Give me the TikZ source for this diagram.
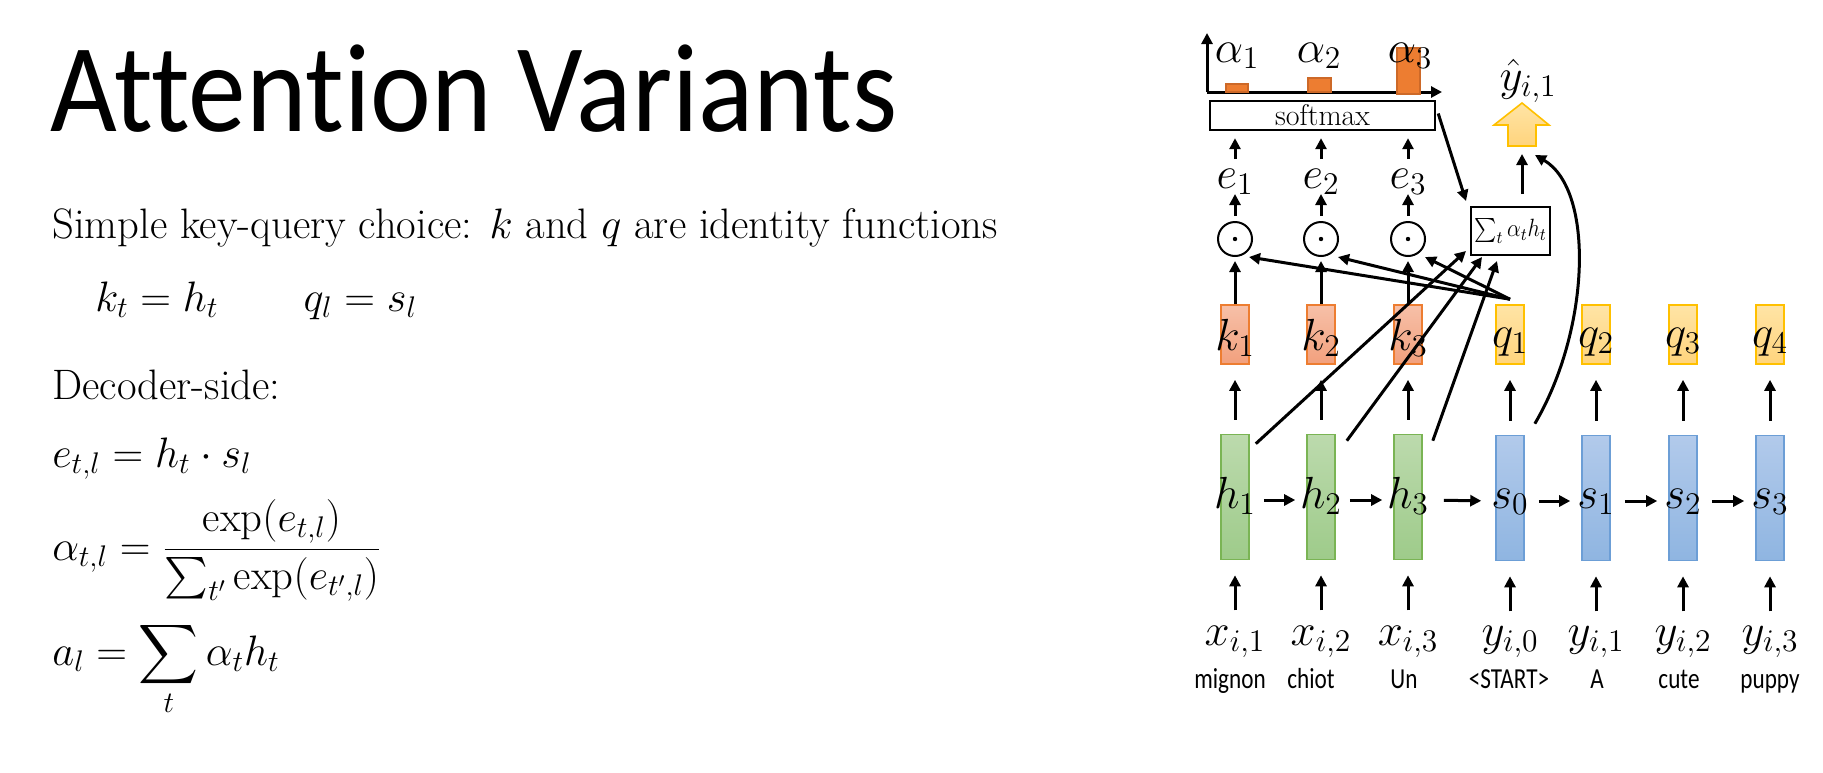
\RequirePackage{fix-cm}
\documentclass[tikz,border=0pt]{standalone}
\usepackage{amsmath}
\usepackage{exscale}
\usepackage{fontspec}
\usepackage{graphicx}
\usetikzlibrary{arrows.meta,calc}

\newfontfamily\titlefont[Ligatures=NoCommon,FakeStretch=0.915]{Carlito}
\newfontfamily\wordfont[FakeStretch=0.8]{Carlito}
\newcommand{\sq}[1]{\scalebox{0.88}[1]{#1}}

\definecolor{hgreenT}{RGB}{188,218,173}
\definecolor{hgreenB}{RGB}{158,203,138}
\definecolor{hgreenD}{RGB}{122,180,84}
\definecolor{sblueT}{RGB}{178,202,235}
\definecolor{sblueB}{RGB}{143,181,225}
\definecolor{sblueD}{RGB}{108,158,214}
\definecolor{korT}{RGB}{247,192,168}
\definecolor{korB}{RGB}{242,160,125}
\definecolor{korD}{RGB}{237,125,49}
\definecolor{qyT}{RGB}{255,228,165}
\definecolor{qyB}{RGB}{255,212,125}
\definecolor{qyD}{RGB}{255,192,0}
\definecolor{barfill}{RGB}{237,125,49}
\definecolor{bardraw}{RGB}{205,105,40}

\tikzset{
  arr/.style={line width=1.5pt,-{Triangle[length=5.5pt,width=5.5pt]}},
  vecbox/.style={draw, line width=0.8pt, minimum width=14pt, inner sep=0pt},
  hstate/.style={vecbox, minimum height=62.5pt, draw=hgreenD, top color=hgreenT, bottom color=hgreenB},
  sstate/.style={vecbox, minimum height=62.5pt, draw=sblueD, top color=sblueT, bottom color=sblueB},
  kvec/.style={vecbox, minimum height=29.5pt, draw=korD, top color=korT, bottom color=korB},
  qvec/.style={vecbox, minimum height=29.5pt, draw=qyD, top color=qyT, bottom color=qyB},
  dotop/.style={circle, draw, line width=1pt, minimum size=17pt, inner sep=0pt},
  lab/.style={inner sep=0pt, anchor=base, font=\fontsize{22.5}{26}\selectfont},
  word/.style={inner sep=0pt, anchor=base, font=\wordfont\fontsize{14.5}{17}\selectfont},
  body/.style={inner sep=0pt, anchor=base west, font=\fontsize{21.3}{26}\selectfont},
  bar/.style={fill=barfill, draw=bardraw, line width=0.6pt},
}

\begin{document}
\begin{tikzpicture}[x=0.5pt,y=-0.5pt]
\useasboundingbox (0,0) rectangle (1823,772);

% ---------- slide text ----------
\node[inner sep=0pt, anchor=base west, font=\titlefont\fontsize{63}{68}\selectfont] (title) at (50,131) {Attention Variants};

\node[body] (line1) at (52,238) {Simple key-query choice: $k$ and $q$ are identity functions};
\node[body] (line2) at (95,311) {$k_t = h_t \qquad q_l = s_l$};
\node[body] (line3) at (52,399) {Decoder-side:};
\node[body] (line4) at (52,467) {$e_{t,l} = h_t \cdot s_l$};
\node[body] (line5) at (52,560) {$\displaystyle \alpha_{t,l} = \frac{\exp(e_{t,l})}{\sum_{t'}\exp(e_{t',l})}$};
\node[body] (line6) at (52,665) {$\displaystyle a_l = \sum_t \alpha_t h_t$};

% ---------- encoder columns ----------
\foreach \i/\x in {1/1235,2/1321,3/1408} {
  \node[hstate] (h\i) at (\x,497) {};
  \node[lab] (hl\i) at (\x,508) {$h_\i$};
  \node[kvec] (k\i) at (\x,334.5) {};
  \node[lab] (kl\i) at (\x,350) {$k_\i$};
  \node[dotop] (c\i) at (\x,239) {};
  \fill (c\i) circle (1.1pt);
  \node[lab] (e\i) at (\x,188) {$e_\i$};
  \node[lab] (x\i) at (\x,645) {$x_{i,\i}$};
}
\node[word] (w1) at (1230,688) {mignon};
\node[word] (w2) at (1311,688) {chiot};
\node[word] (w3) at (1404,688) {Un};

% ---------- decoder columns ----------
\foreach \j/\x in {0/1510,1/1596,2/1683,3/1770} {
  \pgfmathtruncatemacro{\n}{\j+1}
  \node[sstate] (s\j) at (\x,498) {};
  \node[lab] (sl\j) at (\x,508) {$s_\j$};
  \node[qvec] (q\n) at (\x,334.5) {};
  \node[lab] (ql\n) at (\x,347) {$q_\n$};
  \node[lab] (y\j) at (\x,645) {$y_{i,\j}$};
}
\node[word] (w4) at (1509,688) {<START>};
\node[word] (w5) at (1597,688) {A};
\node[word] (w6) at (1679,688) {cute};
\node[word] (w7) at (1770,688) {puppy};

% ---------- attention head ----------
\node[draw, line width=1.2pt, minimum width=112.5pt, minimum height=14.5pt, inner sep=0pt,
      font=\fontsize{15}{17}\selectfont] (sm) at (1322.5,115.5) {softmax};
\node[draw, line width=1pt, minimum width=39.5pt, minimum height=24pt, inner sep=0pt,
      font=\fontsize{12.5}{15}\selectfont] (sum) at (1510.5,231) {\sq{$\sum_t \alpha_t h_t$}};

% attention distribution plot
\coordinate (orig) at (1207,92);
\coordinate (ytop) at (1207,33);
\coordinate (xend) at (1442,92);
\draw[arr] (orig) -- (ytop);
\draw[arr] (orig) -- (xend);
\draw[bar] (1226,84) rectangle (1248,92);
\draw[bar] (1308,78) rectangle (1331,92);
\draw[bar] (1397,48) rectangle (1420,94);
\node[lab] (a1) at (1237,62) {$\alpha_1$};
\node[lab] (a2) at (1319,62) {$\alpha_2$};
\node[lab] (a3) at (1410,62) {$\alpha_3$};

% output arrow
\coordinate (ytail) at (1522,146);
\shade[top color=qyT, bottom color=qyB, draw=qyD, line width=0.8pt]
  (1522,103) -- (1549,125) -- (1536,125) -- (1536,146) -- (1508,146)
  -- (1508,125) -- (1494,125) -- cycle;
\node[lab] (yhat) at (1528,90) {$\hat{y}_{i,1}$};

% ---------- connectors ----------
\foreach \i in {1,2,3} {
  \draw[arr] ($(h\i.south)+(0,50)$) -- ($(h\i.south)+(0,15)$);
  \draw[arr, shorten <=7pt, shorten >=7.5pt] (h\i.north) -- (k\i.south);
  \draw[arr, shorten >=2pt] (k\i.north) -- (c\i.south);
  \draw[arr] ($(c\i.north)+(0,-5)$) -- ($(c\i.north)+(0,-27)$);
  \draw[arr] ($(c\i |- sm.south)+(0,28)$) -- ($(c\i |- sm.south)+(0,7)$);
}
\foreach \j in {0,1,2,3} {
  \pgfmathtruncatemacro{\n}{\j+1}
  \draw[arr] ($(s\j.south)+(0,50)$) -- ($(s\j.south)+(0,15)$);
  \draw[arr, shorten <=7pt, shorten >=7.5pt] (s\j.north) -- (q\n.south);
}

% recurrences
\foreach \a/\b in {h1/h2,h2/h3,s0/s1,s1/s2,s2/s3}
  \draw[arr, shorten <=7pt, shorten >=5.5pt] ($(\a.east)+(0,3)$) -- ($(\b.west)+(0,3)$);
\draw[arr, shorten <=10.5pt, shorten >=7pt] ($(h3.east)+(0,3)$) -- ($(s0.west)+(0,3)$);

% query against keys
\draw[arr] ($(q1.north)+(0,-5)$) -- ($(c1)+(14,18)$);
\draw[arr] ($(q1.north)+(0,-5)$) -- ($(c2)+(17,18)$);
\draw[arr] ($(q1.north)+(0,-5)$) -- ($(c3)+(17,18)$);

% values into the weighted sum
\draw[arr] ($(h1.north east)+(6,10)$) -- ($(sum.south west)+(-4,-5)$);
\draw[arr] ($(h2.north east)+(11,7)$) -- ($(sum.south west)+(12,1)$);
\draw[arr] ($(h3.north east)+(10,7)$) -- ($(sum.south west)+(27,5)$);

% weights into the weighted sum
\draw[arr] ($(sm.east)+(2,-2)$) -- ($(sum.north west)+(-4,-5)$);

% to the output
\draw[arr] ($(sum.north -| ytail)+(0,-12)$) -- ($(ytail)+(0,8)$);
\draw[arr] ($(s0.north east)+(10,-11)$) .. controls (1590,330) and (1595,190) .. ($(ytail)+(13,9)$);

\end{tikzpicture}
\end{document}
